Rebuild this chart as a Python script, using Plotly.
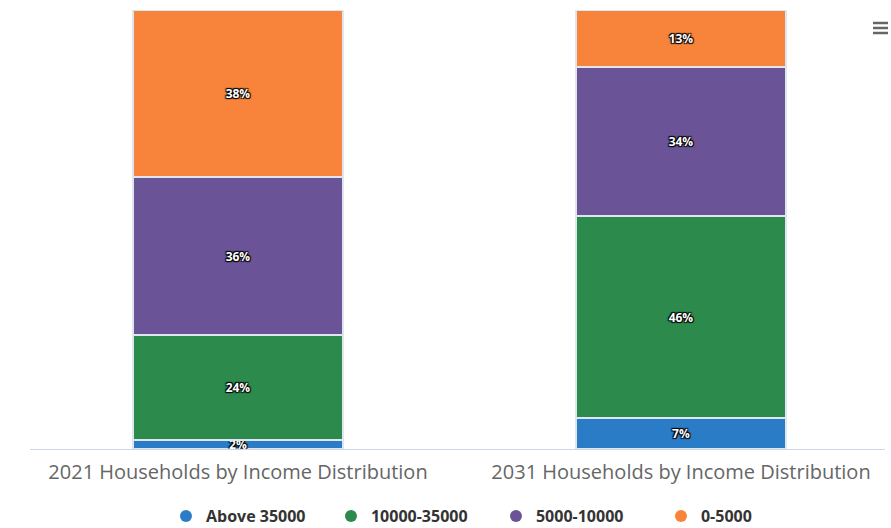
import plotly.graph_objects as go

categories = ["2021 Households by Income Distribution", "2031 Households by Income Distribution"]
series_names = ["Above 35000", "10000-35000", "5000-10000", "0-5000"]
above_35000 = [2, 7]
r10000_35000 = [24, 46]
r5000_10000 = [36, 34]
r0_5000 = [38, 13]
series_values = [above_35000, r10000_35000, r5000_10000, r0_5000]
colors = ["#2a7cc6", "#2b8a4c", "#6a5396", "#f7843a"]

fig = go.Figure()
shadow = "1px 1px 1px #000, -1px -1px 1px #000, 1px -1px 1px #000, -1px 1px 1px #000"
for name, vals, col in zip(series_names, series_values, colors):
    fig.add_trace(go.Bar(
        x=categories, y=vals, name=name,
        marker=dict(color=col, line=dict(color="#dfe6ee", width=2)),
        width=0.476,
        text=[f"{v}%" for v in vals], textposition="inside",
        insidetextanchor="middle", constraintext="none",
        textfont=dict(color="white", size=12, family="Open Sans", weight="bold", shadow=shadow),
        showlegend=False,
    ))
for name, col in zip(series_names, colors):
    fig.add_trace(go.Scatter(
        x=[None], y=[None], mode="markers", name=name,
        marker=dict(color=col, size=15, symbol="circle"),
    ))

def px_x(p):
    return (p - 30) / 855

def px_y(p):
    return (449 - p) / 439

fig.update_layout(
    barmode="stack",
    width=891, height=528,
    margin=dict(l=30, r=6, t=10, b=79, autoexpand=False),
    plot_bgcolor="white", paper_bgcolor="white",
    bargap=0,
    xaxis=dict(
        type="category",
        range=[-0.4695, 1.4605],
        showline=True, linecolor="#ccd6eb", linewidth=1,
        showgrid=False, ticks="",
        ticklabelstandoff=5,
        tickfont=dict(family="Open Sans", size=20, color="#666666"),
    ),
    yaxis=dict(range=[0, 100], visible=False),
    legend=dict(
        orientation="h", x=0.545, xanchor="center", y=px_y(533), yanchor="bottom",
        traceorder="normal",
        font=dict(family="Open Sans", size=16, color="#333333", weight="bold"),
        itemsizing="constant", entrywidth=120,
    ),
)
for py in (23, 28, 33):
    fig.add_shape(type="line", xref="paper", yref="paper",
                  x0=px_x(873), x1=px_x(888), y0=px_y(py), y1=px_y(py),
                  line=dict(color="#666666", width=2.5))
fig.write_html("out.html", config={"displayModeBar": False},
               post_script="document.body.style.margin='0';document.body.style.padding='0';")
